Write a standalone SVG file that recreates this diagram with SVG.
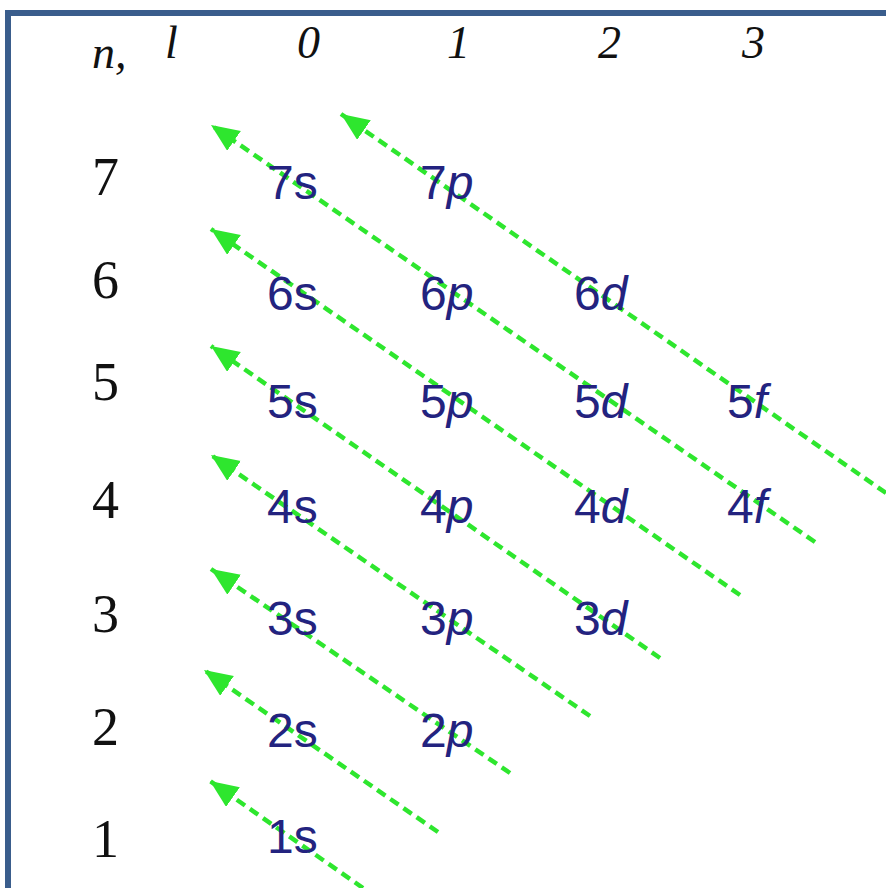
<svg xmlns="http://www.w3.org/2000/svg" width="886" height="888" viewBox="0 0 886 888">
<style>
.hdr{font-family:"Liberation Serif",serif;font-style:italic;fill:#111;font-size:46px}
.row{font-family:"Liberation Serif",serif;fill:#111;font-size:54px}
.orb{font-family:"Liberation Sans",sans-serif;fill:#23237f;font-size:48px}
.it{font-style:italic}
.arr{stroke:#2ee62e;stroke-width:4.5;stroke-dasharray:10 6;fill:none;marker-end:url(#ah)}
</style>
<defs>
<marker id="ah" markerUnits="userSpaceOnUse" markerWidth="32" markerHeight="28" refX="28" refY="12" orient="auto">
<path d="M0,0 L28,12 L0,24 Z" fill="#2ee62e"/>
</marker>
</defs>
<rect x="0" y="0" width="886" height="888" fill="#fff"/>
<path d="M8,888 V13 H886" fill="none" stroke="#3a5d8c" stroke-width="6"/>
<g id="header">
<text class="hdr" x="92" y="68" font-size="56">n,</text>
<text class="hdr" x="165" y="58">l</text>
<text class="hdr" x="297" y="58">0</text>
<text class="hdr" x="447" y="58">1</text>
<text class="hdr" x="598" y="58">2</text>
<text class="hdr" x="742" y="58">3</text>
</g>
<g id="rows">
<text class="row" x="92" y="195">7</text>
<text class="row" x="92" y="298">6</text>
<text class="row" x="92" y="400">5</text>
<text class="row" x="92" y="518">4</text>
<text class="row" x="92" y="632">3</text>
<text class="row" x="92" y="745">2</text>
<text class="row" x="92" y="857">1</text>
</g>
<g id="connectors">
<line class="arr" x1="363" y1="888" x2="210" y2="781"/>
<line class="arr" x1="438" y1="832" x2="204" y2="670"/>
<line class="arr" x1="510" y1="773" x2="211" y2="569"/>
<line class="arr" x1="590" y1="716" x2="211" y2="455"/>
<line class="arr" x1="660" y1="658" x2="211" y2="346"/>
<line class="arr" x1="740" y1="595" x2="211" y2="229"/>
<line class="arr" x1="815" y1="542" x2="211" y2="125"/>
<line class="arr" x1="886" y1="493" x2="341" y2="114"/>
</g>
<g id="n7"><text class="orb" x="267" y="199">7s</text><text class="orb" x="420" y="199">7<tspan class="it">p</tspan></text></g>
<g id="n6"><text class="orb" x="267" y="310">6s</text><text class="orb" x="420" y="310">6<tspan class="it">p</tspan></text><text class="orb" x="574" y="310">6<tspan class="it">d</tspan></text></g>
<g id="n5"><text class="orb" x="267" y="418">5s</text><text class="orb" x="420" y="418">5<tspan class="it">p</tspan></text><text class="orb" x="574" y="418">5<tspan class="it">d</tspan></text><text class="orb" x="727" y="418">5<tspan class="it">f</tspan></text></g>
<g id="n4"><text class="orb" x="267" y="523">4s</text><text class="orb" x="420" y="523">4<tspan class="it">p</tspan></text><text class="orb" x="574" y="523">4<tspan class="it">d</tspan></text><text class="orb" x="727" y="523">4<tspan class="it">f</tspan></text></g>
<g id="n3"><text class="orb" x="267" y="635">3s</text><text class="orb" x="420" y="635">3<tspan class="it">p</tspan></text><text class="orb" x="574" y="635">3<tspan class="it">d</tspan></text></g>
<g id="n2"><text class="orb" x="267" y="747">2s</text><text class="orb" x="420" y="747">2<tspan class="it">p</tspan></text></g>
<g id="n1"><text class="orb" x="267" y="853">1s</text></g>
</svg>
